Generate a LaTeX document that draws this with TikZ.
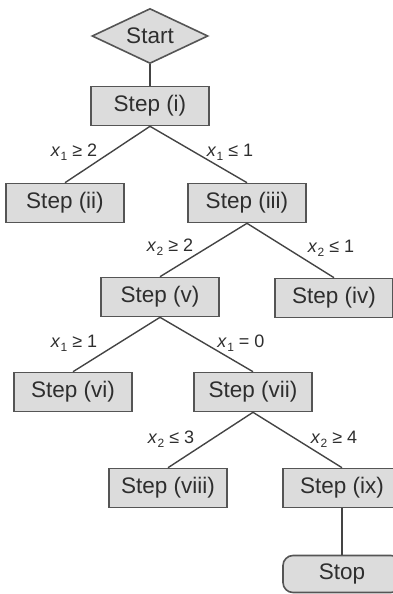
\documentclass[tikz,border=0pt]{standalone}
\usepackage{fontspec}
\setmainfont{Liberation Sans}
\usetikzlibrary{shapes.geometric}
\definecolor{boxfill}{HTML}{DCDCDC}
\definecolor{boxline}{HTML}{555555}
\definecolor{wire}{HTML}{444444}
\definecolor{ink}{HTML}{2E2E2E}
\newcommand\xv[1]{\textit{x}\kern0.3pt\raisebox{-0.45ex}{\fontsize{12}{12}\selectfont #1}}
\tikzset{
  stepbox/.style={draw=boxline, fill=boxfill, line width=1.6pt, minimum width=118pt,
    minimum height=39pt, inner sep=0pt, text=ink, font=\fontsize{22.5}{24}\selectfont},
  startbox/.style={diamond, draw=boxline, fill=boxfill, line width=1.6pt, minimum width=116pt,
    minimum height=55pt, inner sep=0pt, aspect=2.1, text=ink, font=\fontsize{22.5}{24}\selectfont},
  stopbox/.style={stepbox, rounded corners=10pt},
  wireline/.style={draw=wire, line width=1.4pt},
  cond/.style={text=ink, inner sep=0pt, font=\fontsize{18}{20}\selectfont}
}
\begin{document}
\begin{tikzpicture}[x=1pt, y=-1pt]
  \useasboundingbox (0,0) rectangle (393,594);
  \clip (0,0) rectangle (393,594);
  % decision tree nodes
  \node[startbox] (start) at (150,36) {Start};
  \node[stepbox] (s1) at (150,106) {Step (i)};
  \node[stepbox] (s2) at (65,203) {Step (ii)};
  \node[stepbox] (s3) at (247,203) {Step (iii)};
  \node[stepbox] (s4) at (334,298) {Step (iv)};
  \node[stepbox] (s5) at (160,297) {Step (v)};
  \node[stepbox] (s6) at (73,392) {Step (vi)};
  \node[stepbox] (s7) at (253,392) {Step (vii)};
  \node[stepbox] (s8) at (168,488) {Step (viii)};
  \node[stepbox] (s9) at (342,488) {Step (ix)};
  \node[stopbox, minimum height=37pt] (stop) at (342,574) {Stop};

  % branches
  \draw[wireline] (start.south) -- (s1.north);
  \draw[wireline] (s1.south) -- (s2.north);
  \draw[wireline] (s1.south) -- (s3.north);
  \draw[wireline] (s3.south) -- (s5.north);
  \draw[wireline] (s3.south) -- (s4.north);
  \draw[wireline] (s5.south) -- (s6.north);
  \draw[wireline] (s5.south) -- (s7.north);
  \draw[wireline] (s7.south) -- (s8.north);
  \draw[wireline] (s7.south) -- (s9.north);
  \draw[wireline] (s9.south) -- (stop.north);

  % branch conditions
  \node[cond] (c1) at (74,152) {\xv{1} ≥ 2};
  \node[cond] (c2) at (230,152) {\xv{1} ≤ 1};
  \node[cond] (c3) at (170,247) {\xv{2} ≥ 2};
  \node[cond] (c4) at (331,248) {\xv{2} ≤ 1};
  \node[cond] (c5) at (74,343) {\xv{1} ≥ 1};
  \node[cond] (c6) at (241,343) {\xv{1} = 0};
  \node[cond] (c7) at (171,439) {\xv{2} ≤ 3};
  \node[cond] (c8) at (334,439) {\xv{2} ≥ 4};
\end{tikzpicture}
\end{document}
